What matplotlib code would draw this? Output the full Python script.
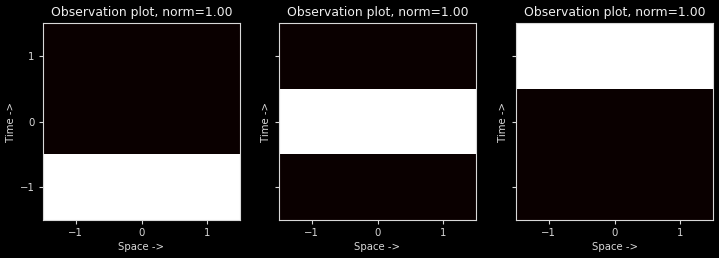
import numpy as np
import matplotlib
matplotlib.use('Agg')
import matplotlib.pyplot as plt

# observation images, one column, rows = time (top row first)
obs1 = [[0.0], [0.0], [1.0]]
obs2 = [[0.0], [1.0], [0.0]]
obs3 = [[1.0], [0.0], [0.0]]
observations = [obs1, obs2, obs3]
norms = [1.00, 1.00, 1.00]
ticks = [-1, 0, 1]

plt.style.use('dark_background')
fig = plt.figure(figsize=(7.19, 2.58), dpi=100)

lefts = [43, 279, 516]
for k, (obs, nrm) in enumerate(zip(observations, norms)):
    ax = fig.add_axes([lefts[k] / 719, 38 / 258, 197 / 719, 197 / 258])
    ax.imshow(np.array(obs), cmap='hot', vmin=0, vmax=1, aspect='auto',
              extent=[-1.5, 1.5, -1.5, 1.5], interpolation='nearest')
    ax.set_xticks(ticks)
    ax.set_yticks(ticks)
    ax.tick_params(labelsize=7.3, colors='#d8d8d8', length=3, pad=3)
    if k > 0:
        ax.tick_params(labelleft=False)
    for sp in ax.spines.values():
        sp.set_color('#d8d8d8')
    ax.set_title('Observation plot, norm={:.2f}'.format(nrm), fontsize=8.9,
                 color='#eeeeee', pad=5)
    ax.set_xlabel('Space ->', fontsize=7.3, color='#d8d8d8', labelpad=3)
    ax.set_ylabel('Time ->', fontsize=7.3, color='#d8d8d8', labelpad=3)

fig.savefig('out.png', dpi=100, facecolor='black')
